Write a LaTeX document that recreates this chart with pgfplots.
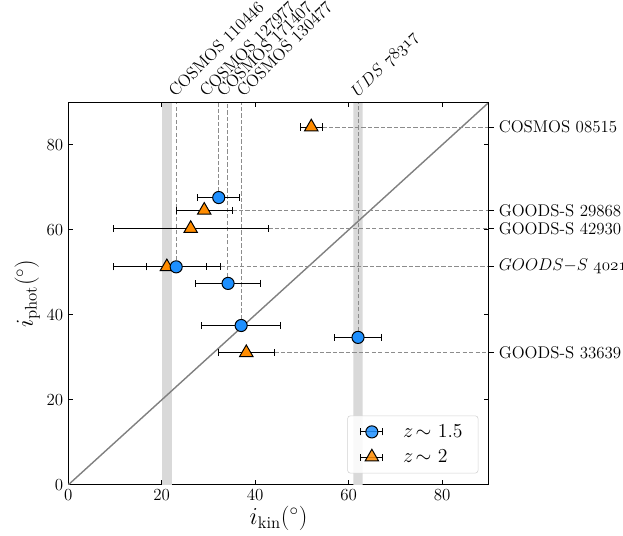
\documentclass[border=0pt]{standalone}
\usepackage{fontspec}
\usepackage{pgfplots}
\usepackage{pgfplotstable}
\pgfplotsset{compat=1.18}
\definecolor{cblue}{RGB}{30,144,255}
\definecolor{corange}{RGB}{255,140,0}
\definecolor{band}{RGB}{217,217,217}
\definecolor{dgray}{RGB}{140,140,140}

\pgfplotstableread{
x y xerr
32.2 67.6 4.5
23.1 51.3 6.4
34.2 47.4 7.0
37.0 37.5 8.4
62.0 34.7 5.0
}\zone
\pgfplotstableread{
x y xerr
52.0 84.2 2.4
29.1 64.6 6.0
26.2 60.3 16.6
21.1 51.3 11.5
38.1 31.1 6.0
}\ztwo

\begin{document}
\begin{tikzpicture}
\begin{axis}[name=ax1,
  width=298pt, height=271pt, scale only axis,
  xmin=0, xmax=90, ymin=0, ymax=90,
  xtick={0,20,40,60,80}, ytick={0,20,40,60,80},
  tick pos=both, tick align=inside,
  major tick length=3.5pt,
  tick style={black, line width=0.6pt},
  axis line style={line width=0.8pt},
  ticklabel style={font=\fontsize{12.5}{14}\selectfont},
  xlabel={$i_{\mathrm{kin}}(^\circ)$},
  ylabel={$i_{\mathrm{phot}}(^\circ)$},
  label style={font=\fontsize{17}{20}\selectfont},
  xlabel style={yshift=3pt},
  ylabel style={yshift=-2pt},
  reverse legend,
  legend style={at={(0.975,0.03)}, anchor=south east, draw=gray!35, rounded corners=2pt,
    fill=white, fill opacity=0.85, text opacity=1, font=\fontsize{14}{16}\selectfont,
    row sep=3pt, inner xsep=9pt, inner ysep=4pt,
    /tikz/every odd column/.style={column sep=12pt}},
  legend cell align=left,
]
% bands
\addplot[fill=band, draw=none, forget plot] coordinates {(20.1,0) (22.2,0) (22.2,90) (20.1,90)} \closedcycle;
\addplot[fill=band, draw=none, forget plot] coordinates {(61,0) (63,0) (63,90) (61,90)} \closedcycle;
% one-to-one
\addplot[gray, line width=1pt, forget plot] coordinates {(0,0) (90,90)};
% dashed guides
\addplot[dgray, dash pattern=on 3pt off 1.6pt, line width=0.7pt, forget plot] coordinates {(23.1,51.3) (23.1,90)};
\addplot[dgray, dash pattern=on 3pt off 1.6pt, line width=0.7pt, forget plot] coordinates {(32.1,67.6) (32.1,90)};
\addplot[dgray, dash pattern=on 3pt off 1.6pt, line width=0.7pt, forget plot] coordinates {(34.1,47.4) (34.1,90)};
\addplot[dgray, dash pattern=on 3pt off 1.6pt, line width=0.7pt, forget plot] coordinates {(37.1,37.5) (37.1,90)};
\addplot[dgray, dash pattern=on 3pt off 1.6pt, line width=0.7pt, forget plot] coordinates {(62.0,34.7) (62.0,90)};
\addplot[dgray, dash pattern=on 3pt off 1.6pt, line width=0.7pt, forget plot] coordinates {(54.4,84.2) (90,84.2)};
\addplot[dgray, dash pattern=on 3pt off 1.6pt, line width=0.7pt, forget plot] coordinates {(35.1,64.6) (90,64.6)};
\addplot[dgray, dash pattern=on 3pt off 1.6pt, line width=0.7pt, forget plot] coordinates {(42.8,60.3) (90,60.3)};
\addplot[dgray, dash pattern=on 3pt off 1.6pt, line width=0.7pt, forget plot] coordinates {(32.6,51.3) (90,51.3)};
\addplot[dgray, dash pattern=on 3pt off 1.6pt, line width=0.7pt, forget plot] coordinates {(44.1,31.1) (90,31.1)};
% z~2
\addplot[black, only marks, mark=triangle*, mark size=5.5pt,
  mark options={fill=corange, draw=black, line width=0.7pt},
  error bars/.cd, x dir=both, x explicit,
  error bar style={black, line width=0.7pt},
  error mark options={black, line width=0.7pt, mark size=2.5pt, rotate=90},
  /pgfplots/.cd,
  legend image code/.code={
    \draw[black, line width=0.7pt] (0cm,0cm) -- (0.55cm,0cm);
    \draw[black, line width=0.7pt] (0cm,-2.5pt) -- (0cm,2.5pt);
    \draw[black, line width=0.7pt] (0.55cm,-2.5pt) -- (0.55cm,2.5pt);
    \draw[mark repeat=2, mark phase=2] plot coordinates {(0cm,0cm) (0.275cm,0cm) (0.55cm,0cm)};
  }]
  table[x=x, y=y, x error=xerr] {\ztwo};
\addlegendentry{$z\!\sim$ 2}
% z~1.5
\addplot[black, only marks, mark=*, mark size=4.3pt,
  mark options={fill=cblue, draw=black, line width=0.7pt},
  error bars/.cd, x dir=both, x explicit,
  error bar style={black, line width=0.7pt},
  error mark options={black, line width=0.7pt, mark size=2.5pt, rotate=90},
  /pgfplots/.cd,
  legend image code/.code={
    \draw[black, line width=0.7pt] (0cm,0cm) -- (0.55cm,0cm);
    \draw[black, line width=0.7pt] (0cm,-2.5pt) -- (0cm,2.5pt);
    \draw[black, line width=0.7pt] (0.55cm,-2.5pt) -- (0.55cm,2.5pt);
    \draw[mark repeat=2, mark phase=2] plot coordinates {(0cm,0cm) (0.275cm,0cm) (0.55cm,0cm)};
  }]
  table[x=x, y=y, x error=xerr] {\zone};
\addlegendentry{$z\!\sim$ 1.5}
\end{axis}
\begin{axis}[name=ax2,
  width=298pt, height=271pt, scale only axis,
  xmin=0, xmax=90, ymin=0, ymax=90,
  axis x line*=top, axis y line*=right,
  axis line style={line width=0.8pt, -},
  xlabel style={overlay}, ylabel style={overlay},
  xtick={22.9,29.5,33.2,37.5,62.0},
  xticklabels={COSMOS 110446, COSMOS 127977, COSMOS 171407, COSMOS 130477, $UDS\ \mathnormal{78317}$},
  xticklabel style={rotate=45, anchor=base west, inner sep=0pt, font=\fontsize{12}{14}\selectfont},
  xticklabel shift=-0.5pt,
  x tick style={draw=none},
  ytick={84.2,64.6,60.3,51.3,31.1},
  yticklabels={COSMOS 08515, GOODS-S 29868, GOODS-S 42930, $GOODS{-}S\ \mathnormal{40218}$, GOODS-S 33639},
  yticklabel style={font=\fontsize{12}{14}\selectfont},
  y tick style={black, line width=0.6pt},
  tick align=outside, major tick length=3.5pt,
]
\end{axis}
\pgfresetboundingbox
\path ([xshift=-7pt]ax1.outer south west) rectangle ([xshift=95pt, yshift=72.5pt]ax1.north east);
\end{tikzpicture}
\end{document}
